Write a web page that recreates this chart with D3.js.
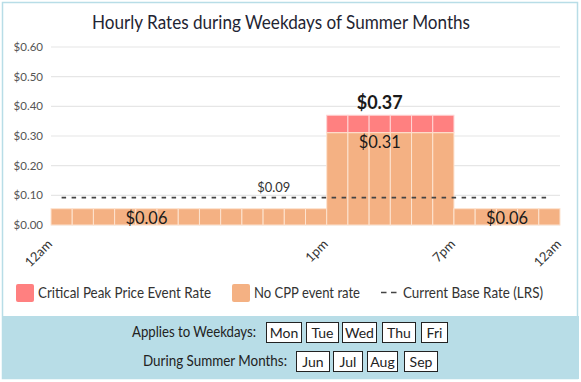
<!DOCTYPE html>
<html><head><meta charset="utf-8">
<script src="https://cdn.jsdelivr.net/npm/d3@7"></script>
<style>
html,body{margin:0;padding:0;background:#fff;}
svg{display:block;font-family:"Source Sans Pro",Lato,"Noto Sans",sans-serif;}
</style></head>
<body><svg id="c" width="581" height="382"></svg>
<script>
const title = "Hourly Rates during Weekdays of Summer Months";
const hours = ["0","1","2","3","4","5","6","7","8","9","10","11","12","13","14","15","16","17","18","19","20","21","22","23"];
const noCppRate = [0.055,0.055,0.055,0.055,0.055,0.055,0.055,0.055,0.055,0.055,0.055,0.055,0.055,0.311,0.311,0.311,0.311,0.311,0.311,0.055,0.055,0.055,0.055,0.055];
const cppRate = [0,0,0,0,0,0,0,0,0,0,0,0,0,0.37,0.37,0.37,0.37,0.37,0.37,0,0,0,0,0];
const baseRate = [0.092,0.092,0.092,0.092,0.092,0.092,0.092,0.092,0.092,0.092,0.092,0.092,0.092,0.092,0.092,0.092,0.092,0.092,0.092,0.092,0.092,0.092,0.092,0.092];
const yTicks = [0,0.1,0.2,0.3,0.4,0.5,0.6];
const xTickHours = [0,13,19,24];
const xTickLabels = ["12am","1pm","7pm","12am"];
const valueLabels = [
  {hour:4, text:"$0.06", kind:"inside"},
  {hour:21, text:"$0.06", kind:"inside"},
  {hour:15, text:"$0.31", kind:"inside"},
  {hour:15, text:"$0.37", kind:"top"},
  {hour:10, text:"$0.09", kind:"base"}
];
const valueLabelValues = [0.055,0.055,0.311,0.37,0.092];
const legendItems = ["Critical Peak Price Event Rate","No CPP event rate","Current Base Rate (LRS)"];
const weekdays = ["Mon","Tue","Wed","Thu","Fri"];
const months = ["Jun","Jul","Aug","Sep"];

const svg = d3.select("#c");
const cOrange = "#f4b183", cRed = "#ff8080", cBlue = "#b8dde7";

// container border and bottom panel
svg.append("rect").attr("x",2.5).attr("y",2.5).attr("width",575).attr("height",376)
  .attr("fill","#fff").attr("stroke",cBlue).attr("stroke-width",1.5);
svg.append("rect").attr("x",2).attr("y",316).attr("width",577).attr("height",63).attr("fill",cBlue);

const x = d3.scaleLinear().domain([0,24]).range([51,560]);
const y = d3.scaleLinear().domain([0,0.6]).range([225,47]);

svg.append("text").attr("x",281).attr("y",29).attr("text-anchor","middle")
  .attr("font-size",18.5).attr("fill","#1f2533")
  .attr("textLength",378).attr("lengthAdjust","spacingAndGlyphs").text(title);

// grid
const g = svg.append("g");
g.selectAll("line.grid").data(yTicks).join("line")
  .attr("x1",51).attr("x2",560).attr("y1",d=>y(d)).attr("y2",d=>y(d))
  .attr("stroke","#e6e6e6").attr("stroke-width",1.2);
g.selectAll("text.yt").data(yTicks).join("text")
  .attr("x",43).attr("y",d=>y(d)+4).attr("text-anchor","end")
  .attr("font-size",11.5).attr("fill","#555").text(d=>"$"+d.toFixed(2));

// bars
const bw = x(1)-x(0);
g.selectAll("rect.cpp").data(hours.map((h,i)=>i).filter(i=>cppRate[i]>0)).join("rect")
  .attr("x",i=>x(i)).attr("width",bw).attr("y",i=>y(cppRate[i])).attr("height",i=>y(noCppRate[i])-y(cppRate[i]))
  .attr("fill",cRed).attr("stroke","#ffd4d4").attr("stroke-width",1);
g.selectAll("rect.nocpp").data(hours.map((h,i)=>i)).join("rect")
  .attr("x",i=>x(i)).attr("width",bw).attr("y",i=>y(noCppRate[i])).attr("height",i=>y(0)-y(noCppRate[i]))
  .attr("fill",cOrange).attr("stroke","#fde3d0").attr("stroke-width",1);

// base line
const line = d3.line().x((d,i)=>x(i+0.5)).y(d=>y(d));
g.append("path").datum(baseRate).attr("d",line).attr("fill","none")
  .attr("stroke","#444").attr("stroke-width",1.8).attr("stroke-dasharray","4.5,5.5");

// value labels
valueLabels.forEach((l,i)=>{
  const v = valueLabelValues[i];
  let yy, fs=18, fw="normal", tl=42;
  if(l.kind==="inside"){ yy = y(v)+15.5; }
  if(l.kind==="top"){ yy = y(v)-6; fw="bold"; tl=46; }
  if(l.kind==="base"){ yy = y(v)-5.5; fs=14; tl=33; }
  g.append("text").attr("x",x(l.hour+0.5)).attr("y",yy).attr("text-anchor","middle")
    .attr("font-size",fs).attr("font-weight",fw).attr("fill",l.kind==="base"?"#333":"#1a1a1a")
    .attr("textLength",tl).attr("lengthAdjust","spacingAndGlyphs").text(l.text);
});

// x tick labels
xTickHours.forEach((h,i)=>{
  const px = x(h)+2, py = 245;
  g.append("text").attr("transform",`translate(${px},${py}) rotate(-45)`)
    .attr("text-anchor","end").attr("font-size",13).attr("fill","#333").text(xTickLabels[i]);
});

// legend
const lg = svg.append("g");
const legTextX = [38,254,403];
const legTextW = [173,106,140];
lg.append("rect").attr("x",16).attr("y",284).attr("width",18).attr("height",18).attr("rx",2).attr("fill",cRed);
lg.append("rect").attr("x",232).attr("y",284).attr("width",18).attr("height",18).attr("rx",2).attr("fill",cOrange);
lg.append("line").attr("x1",381).attr("x2",397).attr("y1",292.5).attr("y2",292.5)
  .attr("stroke","#444").attr("stroke-width",1.6).attr("stroke-dasharray","5.5,4.5");
legendItems.forEach((t,i)=>{
  lg.append("text").attr("x",legTextX[i]).attr("y",298).attr("font-size",15).attr("fill","#333")
    .attr("textLength",legTextW[i]).attr("lengthAdjust","spacingAndGlyphs").text(t);
});

// bottom panel
function boxRow(label, labelLeft, labelW, items, xs, ws, top){
  svg.append("text").attr("x",labelLeft).attr("y",top+15).attr("font-size",14.5).attr("fill","#222")
    .attr("textLength",labelW).attr("lengthAdjust","spacingAndGlyphs").text(label);
  items.forEach((t,i)=>{
    svg.append("rect").attr("x",xs[i]+0.5).attr("y",top+0.5).attr("width",ws[i]).attr("height",20)
      .attr("fill","#fff").attr("stroke","#222").attr("stroke-width",1);
    svg.append("text").attr("x",xs[i]+0.5+ws[i]/2).attr("y",top+15.5).attr("text-anchor","middle")
      .attr("font-size",14).attr("fill","#222").text(t);
  });
}
boxRow("Applies to Weekdays:",132,124,weekdays,[266,306,342,382,421],[35,32,34,33,26],322);
boxRow("During Summer Months:",143,144,months,[296,333,367,404],[33,29,30,33],351);
</script></body></html>
